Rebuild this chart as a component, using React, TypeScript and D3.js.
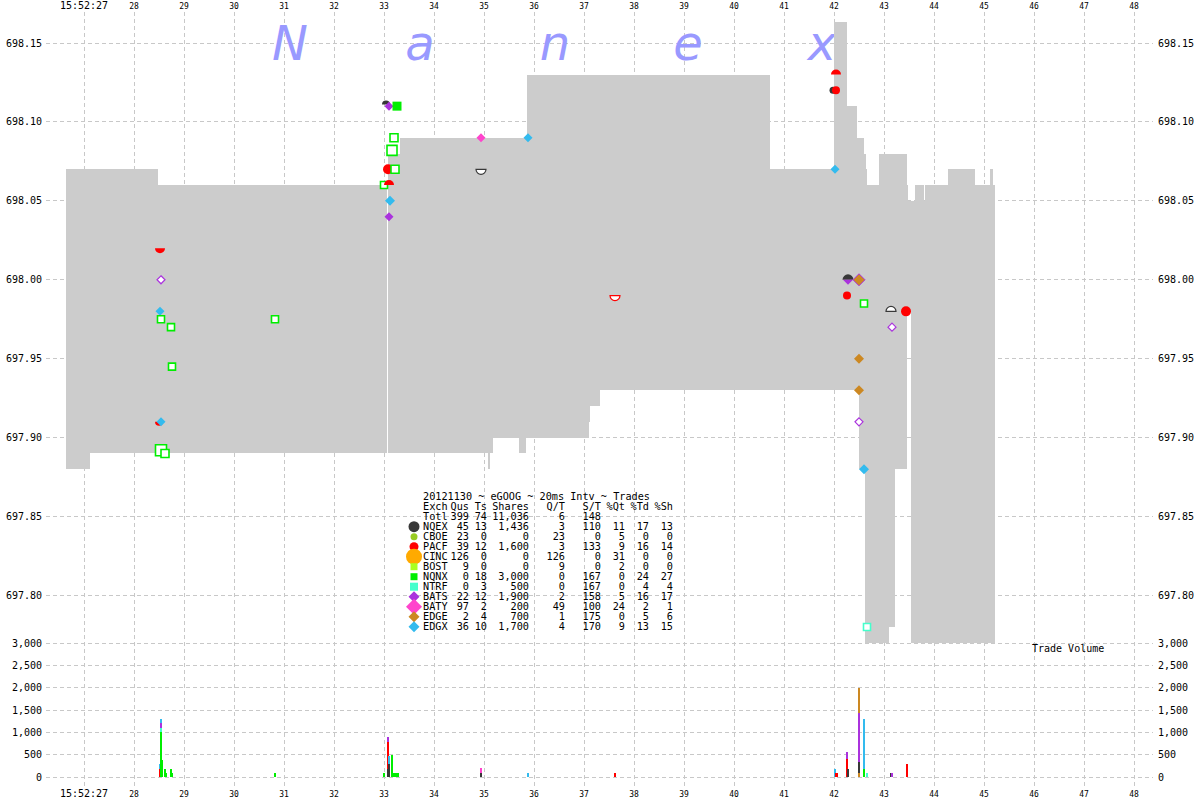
import React from "react";
import * as d3 from "d3";

const W = 1200;
const H = 800;

// seconds after 15:52:00
const timeTicks = [27, 28, 29, 30, 31, 32, 33, 34, 35, 36, 37, 38, 39, 40, 41, 42, 43, 44, 45, 46, 47, 48];
const timeTickLabels = ["15:52:27", "28", "29", "30", "31", "32", "33", "34", "35", "36", "37", "38", "39", "40", "41", "42", "43", "44", "45", "46", "47", "48"];
const priceTicks = [698.15, 698.1, 698.05, 698.0, 697.95, 697.9, 697.85, 697.8];
const volTicks = [0, 500, 1000, 1500, 2000, 2500, 3000];

// NBBO intervals (start time, ask, bid); last entry is end sentinel
const nbboTime = [26.64, 27.12, 28.48, 33.06, 33.08, 33.32, 35.08, 35.12, 35.18, 35.70, 35.84, 35.86, 37.10, 37.12, 37.32, 40.72, 42.00, 42.26, 42.46, 42.50, 42.60, 42.62, 42.64, 42.66, 42.90, 43.10, 43.22, 43.46, 43.48, 43.54, 43.62, 43.80, 43.82, 44.28, 44.82, 45.12, 45.18, 45.22];
const nbboAsk = [698.07, 698.07, 698.06, null, 698.08, 698.09, 698.09, 698.09, 698.09, 698.09, 698.09, 698.13, 698.13, 698.13, 698.13, 698.07, 698.163, 698.11, 698.09, 698.09, 698.08, 698.08, 698.07, 698.06, 698.08, 698.08, 698.08, 698.06, 698.05, 698.05, 698.06, 698.05, 698.06, 698.07, 698.06, 698.07, 698.06, 698.06];
const nbboBid = [697.88, 697.89, 697.89, null, 697.89, 697.89, 697.88, 697.89, 697.90, 697.89, 697.90, 697.90, 697.91, 697.92, 697.93, 697.93, 697.93, 697.93, 697.93, 697.88, 697.88, 697.77, 697.77, 697.77, 697.77, 697.78, 697.88, 697.98, 697.98, 697.77, 697.77, 697.77, 697.77, 697.77, 697.77, 697.77, 697.77, 697.77];

const exchNames = ["NQEX", "CBOE", "PACF", "CINC", "BOST", "NQNX", "NTRF", "BATS", "BATY", "EDGE", "EDGX"];
const exchColors = ["#383838", "#99cc22", "#ff0000", "#ffaa00", "#aaff22", "#00ee00", "#44ffcc", "#aa33dd", "#ff44cc", "#cc8822", "#33bbee"];
const exchShapes = ["circle", "circle", "circle", "circle", "square", "square", "square", "diamond", "diamond", "diamond", "diamond"];
const legendMarkSize = [5.5, 3.5, 4.5, 8, 7, 7, 8, 5.5, 8, 5.5, 5.5];

// legend table
const legendQus = [45, 23, 39, 126, 9, 0, 0, 22, 97, 2, 36];
const legendTs = [13, 0, 12, 0, 0, 18, 3, 12, 2, 4, 10];
const legendShares = [1436, 0, 1600, 0, 0, 3000, 500, 1900, 200, 700, 1700];
const legendQT = [3, 23, 3, 126, 9, 0, 0, 2, 49, 1, 4];
const legendST = [110, 0, 133, 0, 0, 167, 167, 158, 100, 175, 170];
const legendPQt = [11, 5, 9, 31, 2, 0, 0, 5, 24, 0, 9];
const legendPTd = [17, 0, 16, 0, 0, 24, 4, 16, 2, 5, 13];
const legendPSh = [13, 0, 14, 0, 0, 27, 4, 17, 1, 6, 15];
const totalRow = ["399", "74", "11,036", "6", "148"];

// quote / trade markers
const mkTime = [28.52, 28.54, 28.52, 28.54, 28.74, 28.76, 28.50, 28.54, 28.54, 28.62, 30.82, 33.04, 33.10, 33.26, 33.20, 33.16, 33.08, 33.22, 33.00, 33.10, 33.12, 33.10, 34.94, 34.94, 35.88, 37.62, 42.04, 41.98, 42.04, 42.02, 42.28, 42.28, 42.50, 42.26, 42.60, 43.14, 43.44, 43.16, 42.50, 42.50, 42.50, 42.60, 42.66];
const mkPrice = [698.02, 698.0, 697.98, 697.975, 697.97, 697.945, 697.91, 697.91, 697.892, 697.89, 697.975, 698.111, 698.11, 698.11, 698.09, 698.082, 698.07, 698.07, 698.06, 698.06, 698.05, 698.04, 698.09, 698.07, 698.09, 697.99, 698.13, 698.12, 698.12, 698.07, 698.0, 698.0, 698.0, 697.99, 697.985, 697.98, 697.98, 697.97, 697.95, 697.93, 697.91, 697.88, 697.78];
const mkExch = ["PACF", "BATS", "EDGX", "NQNX", "NQNX", "NQNX", "PACF", "EDGX", "NQNX", "NQNX", "NQNX", "NQEX", "BATS", "NQNX", "NQNX", "NQNX", "PACF", "NQNX", "NQNX", "PACF", "EDGX", "BATS", "BATY", "NQEX", "EDGX", "PACF", "PACF", "NQEX", "PACF", "EDGX", "NQEX", "BATS", "EDGE", "PACF", "NQNX", "NQEX", "PACF", "BATS", "EDGE", "EDGE", "BATS", "EDGX", "NTRF"];
const mkStyle = ["bowl", "hollow", "fill", "hollow", "hollow", "hollow", "bowl", "fill", "hollow", "hollow", "hollow", "dome", "fill", "fill", "hollow", "hollow", "fill", "hollow", "hollow", "dome", "fill", "fill", "fill", "bowlHollow", "fill", "bowlHollow", "dome", "fill", "fill", "fill", "dome", "bowl", "fill", "fill", "hollow", "domeHollow", "fill", "hollow", "fill", "fill", "hollow", "fill", "hollow"];
const mkSize = [5, 4, 4.5, 7, 7, 7, 4, 4.5, 11, 8, 7, 4, 4.5, 9, 8, 10, 5, 8, 7, 5, 5, 4.5, 4.5, 5, 4.5, 5, 5, 3.5, 4, 4.5, 5.5, 5, 6, 4, 7, 5, 5, 4, 5, 5, 4, 5, 7];
const mkOutline = ["", "", "", "", "", "", "", "", "", "", "", "", "", "", "", "", "", "", "", "", "", "", "", "", "", "", "", "", "", "", "", "", "#aa33dd", "", "", "", "", "", "", "", "", "", ""];

// trade volume bars (stacked per time)
const volTime = [28.52, 28.52, 28.54, 28.54, 28.54, 28.54, 28.56, 28.62, 28.64, 28.74, 28.76, 30.82, 33.00, 33.08, 33.08, 33.08, 33.10, 33.10, 33.16, 33.20, 33.24, 33.28, 34.94, 34.94, 35.88, 37.62, 42.02, 42.04, 42.06, 42.26, 42.26, 42.28, 42.50, 42.50, 42.50, 42.50, 42.60, 42.60, 42.66, 43.14, 43.16, 43.46];
const volExch = ["PACF", "EDGX", "NQNX", "NTRF", "BATS", "EDGX", "NQNX", "NQNX", "NQNX", "NQNX", "NQNX", "NQNX", "NQNX", "NQEX", "PACF", "BATS", "NQEX", "EDGX", "NQNX", "NQNX", "NQNX", "NQNX", "NQEX", "BATY", "EDGX", "PACF", "EDGX", "PACF", "PACF", "PACF", "BATS", "NQEX", "EDGE", "NQEX", "BATS", "EDGE", "NQNX", "EDGX", "NTRF", "NQEX", "BATS", "PACF"];
const volShares = [180, 110, 1000, 100, 100, 100, 380, 180, 100, 180, 100, 100, 100, 180, 600, 120, 300, 180, 490, 100, 100, 100, 100, 100, 100, 100, 180, 100, 100, 400, 160, 180, 100, 240, 1085, 575, 180, 1120, 100, 100, 100, 300];

const watermark = ["N", "a", "n", "e", "x"];
const watermarkX = [290, 420, 555, 688, 822];

const FONT = "'DejaVu Sans Mono', monospace";

const x = d3.scaleLinear().domain([27, 48]).range([84, 1134]);
const yP = d3.scaleLinear().domain([697.8, 698.15]).range([595.5, 43]);
const yV = d3.scaleLinear().domain([0, 3000]).range([777, 643]);
const fmtVol = d3.format(",");
const fmtPrice = d3.format(".2f");

function markerPath(shape: string, style: string, r: number): string {
  const dome = style === "dome" || style === "domeHollow";
  const bowl = style === "bowl" || style === "bowlHollow";
  if (shape === "circle") {
    if (dome) return `M${-r},0A${r},${r} 0 0 1 ${r},0Z`;
    if (bowl) return `M${-r},0A${r},${r} 0 0 0 ${r},0Z`;
    return `M${-r},0A${r},${r} 0 1 1 ${r},0A${r},${r} 0 1 1 ${-r},0Z`;
  }
  if (shape === "diamond") {
    if (dome) return `M${-r},0L0,${-r}L${r},0Z`;
    if (bowl) return `M${-r},0L0,${r}L${r},0Z`;
    return `M0,${-r}L${r},0L0,${r}L${-r},0Z`;
  }
  const h = r / 2;
  if (dome) return `M${-h},0v${-h}h${r}v${h}Z`;
  if (bowl) return `M${-h},0v${h}h${r}v${-h}Z`;
  return `M${-h},${-h}h${r}v${r}h${-r}Z`;
}

export default function App() {
  const gridColor = "#c8c8c8";
  const dash = "4,3";

  const nbboRects: any[] = [];
  for (let i = 0; i < nbboTime.length - 1; i++) {
    const a = nbboAsk[i];
    const b = nbboBid[i];
    if (a == null || b == null) continue;
    nbboRects.push(
      <rect
        key={"n" + i}
        x={x(nbboTime[i])}
        width={x(nbboTime[i + 1]) - x(nbboTime[i])}
        y={yP(a)}
        height={yP(b) - yP(a)}
        fill="#cccccc"
        shapeRendering="crispEdges"
      />
    );
  }

  const stackBase = new Map<number, number>();
  const volBars = volTime.map((t, i) => {
    const base = stackBase.get(t) || 0;
    const top = base + volShares[i];
    stackBase.set(t, top);
    const ei = exchNames.indexOf(volExch[i]);
    return (
      <rect
        key={"v" + i}
        x={x(t) - 1}
        width={2}
        y={yV(top)}
        height={yV(base) - yV(top)}
        fill={exchColors[ei]}
        shapeRendering="crispEdges"
      />
    );
  });

  const markers = mkTime.map((t, i) => {
    const ei = exchNames.indexOf(mkExch[i]);
    const shape = exchShapes[ei];
    const style = mkStyle[i];
    const hollow = style.indexOf("ollow") >= 0;
    const col = exchColors[ei];
    const outline = mkOutline[i];
    return (
      <path
        key={"m" + i}
        transform={`translate(${x(t)},${yP(mkPrice[i])})`}
        d={markerPath(shape, style, mkSize[i])}
        fill={hollow ? "#ffffff" : col}
        stroke={hollow ? col : outline ? outline : "none"}
        strokeWidth={hollow ? (shape === "square" ? 1.6 : 1.2) : outline ? 1 : 0}
      />
    );
  });

  const legendX0 = 414;
  const colRight = [469, 487, 529, 565, 601, 625, 649, 673];
  const rowY = (k: number) => 496.7 + k * 10 + 3.6;
  const header = ["Qus", "Ts", "Shares", "Q/T", "S/T", "%Qt", "%Td", "%Sh"];

  return (
    <svg
      width={W}
      height={H}
      viewBox={`0 0 ${W} ${H}`}
      style={{ position: "absolute", left: 0, top: 0, background: "#ffffff" }}
      fontFamily={FONT}
    >
      <rect x={0} y={0} width={W} height={H} fill="#ffffff" />
      <defs>
        <clipPath id="priceClip">
          <rect x={46} y={10} width={1107} height={633} />
        </clipPath>
      </defs>

      {timeTicks.map((t) => (
        <line key={"vg" + t} x1={x(t)} x2={x(t)} y1={12} y2={787} stroke={gridColor} strokeDasharray={dash} shapeRendering="crispEdges" />
      ))}
      {priceTicks.map((p) => (
        <line key={"pg" + p} x1={46} x2={1153} y1={yP(p)} y2={yP(p)} stroke={gridColor} strokeDasharray={dash} shapeRendering="crispEdges" />
      ))}
      {volTicks.map((v) => (
        <line key={"vvg" + v} x1={46} x2={1153} y1={yV(v)} y2={yV(v)} stroke={gridColor} strokeDasharray={dash} shapeRendering="crispEdges" />
      ))}

      {watermark.map((c, i) => (
        <text key={"w" + i} x={watermarkX[i]} y={60} textAnchor="middle" fontFamily="'DejaVu Sans', sans-serif" fontStyle="italic" fontSize={48} fill="#9999ff">
          {c}
        </text>
      ))}

      <g clipPath="url(#priceClip)">{nbboRects}</g>

      <g fontSize={10.2} fill="#000">
        <text x={423} y={rowY(0)}>20121130 ~ eGOOG ~ 20ms Intv ~ Trades</text>
        <text x={423} y={rowY(1)}>Exch</text>
        {header.map((h, j) => (
          <text key={"h" + j} x={colRight[j]} y={rowY(1)} textAnchor="end">{h}</text>
        ))}
        <text x={423} y={rowY(2)}>Totl</text>
        {totalRow.map((v, j) => (
          <text key={"t" + j} x={colRight[j]} y={rowY(2)} textAnchor="end">{v}</text>
        ))}
        {exchNames.map((n, i) => {
          const vals = [legendQus[i], legendTs[i], fmtVol(legendShares[i]), legendQT[i], legendST[i], legendPQt[i], legendPTd[i], legendPSh[i]];
          const cy = 496.7 + (i + 3) * 10;
          return (
            <g key={"l" + i}>
              <path transform={`translate(${legendX0},${cy})`} d={markerPath(exchShapes[i], "fill", legendMarkSize[i])} fill={exchColors[i]} />
              <text x={423} y={rowY(i + 3)}>{n}</text>
              {vals.map((v, j) => (
                <text key={j} x={colRight[j]} y={rowY(i + 3)} textAnchor="end">{String(v)}</text>
              ))}
            </g>
          );
        })}
      </g>

      <g clipPath="url(#priceClip)">{markers}</g>

      <g>{volBars}</g>

      <g fontSize={10} fill="#000">
        {priceTicks.map((p) => (
          <text key={"pl" + p} x={42} y={yP(p) + 3.5} textAnchor="end">{fmtPrice(p)}</text>
        ))}
        {priceTicks.map((p) => (
          <text key={"pr" + p} x={1158} y={yP(p) + 3.5} textAnchor="start">{fmtPrice(p)}</text>
        ))}
        {volTicks.map((v) => (
          <text key={"vl" + v} x={42} y={yV(v) + 3.5} textAnchor="end">{fmtVol(v)}</text>
        ))}
        {volTicks.map((v) => (
          <text key={"vr" + v} x={1158} y={yV(v) + 3.5} textAnchor="start">{fmtVol(v)}</text>
        ))}
        <text x={1032} y={651.5}>Trade Volume</text>
        {timeTicks.map((t, i) => (
          <text key={"tt" + t} x={x(t)} y={i === 0 ? 9 : 8.5} textAnchor="middle" fontSize={i === 0 ? 10 : 8}>{timeTickLabels[i]}</text>
        ))}
        {timeTicks.map((t, i) => (
          <text key={"tb" + t} x={x(t)} y={i === 0 ? 797 : 796.5} textAnchor="middle" fontSize={i === 0 ? 10 : 8}>{timeTickLabels[i]}</text>
        ))}
      </g>
    </svg>
  );
}
